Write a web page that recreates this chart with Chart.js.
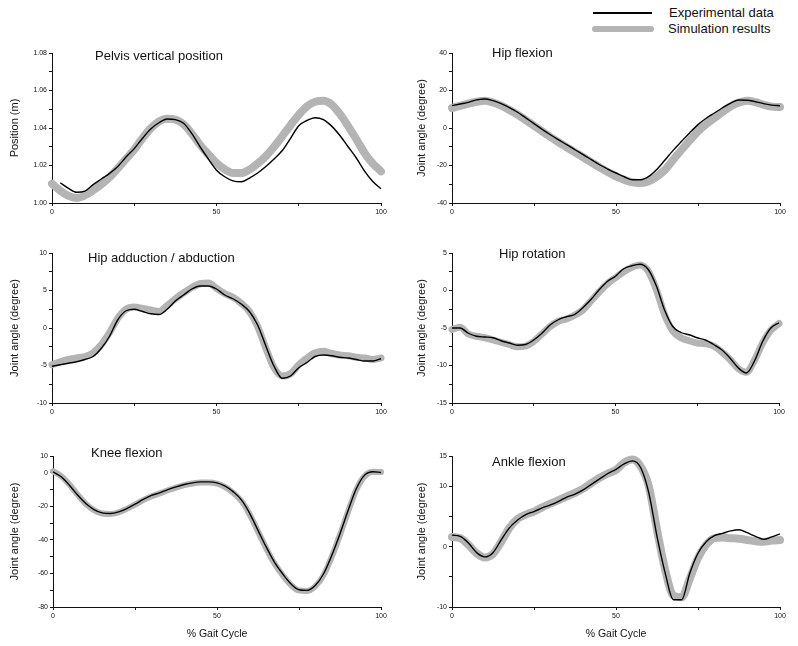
<!DOCTYPE html>
<html>
<head>
<meta charset="utf-8">
<script src="https://cdn.jsdelivr.net/npm/chart.js@4/dist/chart.umd.min.js"></script>
<style>
  body { margin: 0; background: #fff; width: 798px; height: 646px; position: relative; overflow: hidden;
         font-family: "Liberation Sans", Arial, sans-serif; }
  canvas { position: absolute; }
  .legline { position: absolute; }
  .legtext { position: absolute; font-size: 13px; line-height: 14px; color: #111; white-space: nowrap; }
</style>
</head>
<body>
<div class="legline" style="left:593px;top:12px;width:59px;height:1.5px;background:#000"></div>
<div class="legtext" style="left:669px;top:6px">Experimental data</div>
<div class="legline" style="left:592px;top:26px;width:62px;height:6px;border-radius:3px;background:#b4b4b4"></div>
<div class="legtext" style="left:668px;top:22px">Simulation results</div>

<canvas id="pelvis" width="400" height="180" style="left:0px;top:40px"></canvas>
<canvas id="hipFlex" width="398" height="180" style="left:400px;top:40px"></canvas>
<canvas id="hipAdd" width="400" height="180" style="left:0px;top:240px"></canvas>
<canvas id="hipRot" width="398" height="180" style="left:400px;top:240px"></canvas>
<canvas id="knee" width="400" height="203" style="left:0px;top:443px"></canvas>
<canvas id="ankle" width="398" height="203" style="left:400px;top:443px"></canvas>

<script>
// % gait cycle sample points
const gaitPct = [0, 2.5, 5, 7.5, 10, 12.5, 15, 17.5, 20, 22.5, 25, 27.5, 30, 32.5, 35, 37.5, 40, 42.5, 45, 47.5,
                 50, 52.5, 55, 57.5, 60, 62.5, 65, 67.5, 70, 72.5, 75, 77.5, 80, 82.5, 85, 87.5, 90, 92.5, 95, 97.5, 100];

const pelvisExp = [null, 1.0108, 1.0078, 1.0057, 1.0063, 1.0098, 1.0128, 1.0158, 1.0195, 1.0245, 1.0290, 1.0345, 1.0395, 1.0428,
  1.0448, 1.0445, 1.0425, 1.0370, 1.0300, 1.0235, 1.0175, 1.0140, 1.0118, 1.0113, 1.0133, 1.0160, 1.0195, 1.0235,
  1.0280, 1.0345, 1.0412, 1.0440, 1.0455, 1.0445, 1.0410, 1.0360, 1.0300, 1.0240, 1.0170, 1.0115, 1.0076];
const pelvisSim = [1.0103, 1.0065, 1.0038, 1.0027, 1.0040, 1.0068, 1.0100, 1.0138, 1.0185, 1.0235, 1.0285, 1.0345, 1.0398, 1.0435,
  1.0450, 1.0445, 1.0420, 1.0370, 1.0310, 1.0260, 1.0213, 1.0180, 1.0160, 1.0160, 1.0178, 1.0210, 1.0250, 1.0300,
  1.0356, 1.0415, 1.0470, 1.0515, 1.0540, 1.0545, 1.0525, 1.0475, 1.0410, 1.0340, 1.0267, 1.0210, 1.0169];

const hipFlexExp = [11.9, 12.8, 13.7, 15.0, 15.5, 14.6, 13.0, 10.9, 8.4, 5.4, 2.3, -0.7, -3.6, -6.3, -8.9, -11.6, -14.2, -16.9,
  -19.6, -21.9, -24.0, -26.0, -27.6, -27.6, -25.8, -22.0, -16.9, -11.8, -7.1, -2.5, 1.8, 5.2, 8.0, 10.8, 13.3, 14.9,
  14.8, 14.0, 13.0, 12.2, 11.9];
const hipFlexSim = [10.7, 11.8, 13.0, 14.0, 14.6, 13.6, 11.9, 9.6, 7.1, 4.2, 1.2, -1.8, -4.8, -7.6, -10.3, -13.0, -15.6, -18.3,
  -21.0, -23.5, -25.8, -27.6, -29.0, -29.3, -28.4, -25.8, -22.2, -16.8, -11.6, -6.6, -1.8, 2.0, 5.3, 8.6, 11.6, 13.6,
  14.6, 13.8, 12.4, 11.4, 11.2];

const hipAddExp = [-5.1, -4.9, -4.7, -4.5, -4.2, -3.8, -2.7, -1.1, 1.1, 2.3, 2.5, 2.2, 1.9, 1.8, 2.5, 3.6, 4.4, 5.2, 5.6, 5.6,
  5.2, 4.4, 3.9, 3.2, 2.2, 0.4, -2.4, -5.1, -6.7, -6.4, -5.3, -4.6, -3.8, -3.6, -3.7, -3.9, -4.0, -4.2, -4.4, -4.4, -4.1];
const hipAddSim = [-4.9, -4.5, -4.2, -4.0, -3.8, -3.3, -2.2, -0.6, 1.3, 2.5, 2.8, 2.6, 2.4, 2.2, 3.0, 3.9, 4.7, 5.4, 5.9, 6.0,
  5.3, 4.6, 4.1, 3.3, 2.2, 0.2, -2.7, -5.3, -6.4, -6.1, -4.9, -4.0, -3.3, -3.1, -3.4, -3.6, -3.7, -3.9, -4.0, -4.2, -4.0];

const hipRotExp = [-5.0, -5.0, -5.7, -6.1, -6.2, -6.3, -6.7, -7.0, -7.3, -7.2, -6.6, -5.7, -4.6, -3.9, -3.5, -3.2, -2.3, -1.2,
  0.1, 1.2, 1.9, 2.9, 3.3, 3.5, 2.8, 0.6, -2.6, -4.8, -5.6, -5.9, -6.3, -6.6, -7.2, -7.9, -9.0, -10.3, -11.0, -9.4,
  -6.8, -5.0, -4.3];
const hipRotSim = [-5.2, -4.9, -5.8, -6.1, -6.3, -6.6, -6.9, -7.2, -7.5, -7.4, -6.8, -5.8, -4.8, -4.1, -3.8, -3.3, -2.6, -1.4,
  -0.2, 0.9, 1.7, 2.5, 3.1, 3.4, 2.6, 0.1, -3.2, -5.4, -6.3, -6.7, -7.0, -7.1, -7.4, -8.2, -9.2, -10.4, -10.9, -9.3,
  -7.0, -5.3, -4.4];

const kneeExp = [0.6, -2.4, -7.4, -13.3, -18.3, -21.9, -23.9, -24.3, -23.3, -21.3, -18.7, -15.9, -13.5, -12.0, -10.0, -8.4,
  -7.0, -6.0, -5.4, -5.4, -6.0, -8.0, -11.4, -16.3, -24.3, -34.3, -44.2, -53.2, -60.2, -66.1, -69.7, -70.1, -67.1,
  -60.2, -49.2, -36.3, -22.3, -9.4, -1.4, 0.6, 0.2];
const kneeSim = [1.0, -2.0, -7.0, -13.0, -18.5, -22.3, -24.3, -24.6, -23.6, -21.5, -19.0, -16.3, -14.0, -12.3, -10.4, -8.8,
  -7.4, -6.4, -5.8, -5.8, -6.5, -8.6, -12.0, -17.0, -25.0, -35.0, -45.0, -54.0, -61.0, -66.8, -70.2, -70.4, -67.6,
  -61.0, -50.0, -37.0, -23.0, -10.0, -2.0, 0.6, 0.4];

const ankleExp = [1.9, 1.7, 0.6, -1.0, -1.7, -1.0, 1.1, 3.1, 4.4, 5.3, 5.8, 6.4, 6.9, 7.5, 8.2, 8.7, 9.4, 10.3, 11.2, 12.1,
  12.8, 13.7, 14.2, 13.1, 8.9, 1.7, -4.4, -8.8, -8.8, -4.4, -1.1, 0.8, 1.8, 2.2, 2.6, 2.8, 2.3, 1.7, 1.2, 1.6, 2.1];
const ankleSim = [1.6, 1.4, 0.3, -1.1, -1.8, -1.2, 0.8, 3.1, 4.6, 5.3, 5.8, 6.5, 7.1, 7.7, 8.3, 8.9, 9.6, 10.5, 11.4, 12.1,
  12.7, 13.9, 14.4, 13.3, 10.0, 2.8, -3.9, -8.1, -8.4, -5.3, -1.9, 0.3, 1.4, 1.5, 1.4, 1.3, 1.1, 0.9, 0.8, 1.0, 1.1];

const ink = '#111';
const simGray = '#b4b4b4';
const fontFamily = '"Liberation Sans", Arial, sans-serif';
Chart.defaults.font.family = fontFamily;
Chart.defaults.color = ink;

// draws the panel name inside the plot area
const panelTitle = {
  id: 'panelTitle',
  afterDraw(chart, args, opts) {
    const { ctx, chartArea } = chart;
    ctx.save();
    ctx.font = '13px ' + fontFamily;
    ctx.fillStyle = ink;
    ctx.textBaseline = 'middle';
    ctx.fillText(opts.text, chartArea.left + opts.dx, chartArea.top + opts.dy);
    ctx.restore();
  }
};

function points(values) {
  return gaitPct.map((x, i) => ({ x: x, y: values[i] }));
}

function makePanel(p) {
  const b = p.box;
  const yWidth = b.plotLeft - b.left;
  const xHeight = b.top + b.height - b.plotBottom;
  new Chart(document.getElementById(p.id), {
    type: 'line',
    data: {
      datasets: [
        { label: 'Experimental data', data: points(p.exp), borderColor: '#000', borderWidth: 1.4,
          pointRadius: 0, cubicInterpolationMode: 'monotone', clip: false, order: 0 },
        { label: 'Simulation results', data: points(p.sim), borderColor: simGray, borderWidth: p.simWidth,
          borderCapStyle: 'round', borderJoinStyle: 'round',
          pointRadius: 0, cubicInterpolationMode: 'monotone', clip: false, order: 1 }
      ]
    },
    plugins: [panelTitle],
    options: {
      responsive: false,
      animation: false,
      devicePixelRatio: 1,
      layout: { padding: { left: 0, top: b.plotTop - b.top, right: b.left + b.width - b.plotRight, bottom: 0 } },
      plugins: {
        legend: { display: false },
        tooltip: { enabled: false },
        panelTitle: { text: p.title, dx: p.titleDx, dy: p.titleDy }
      },
      scales: {
        x: {
          type: 'linear', min: 0, max: 100,
          afterFit: s => { s.height = xHeight; },
          border: { color: ink, width: 1 },
          grid: { drawOnChartArea: false, tickLength: 3, color: ink },
          ticks: { stepSize: 25, autoSkip: false, maxRotation: 0, padding: 2, font: { size: 7 },
                   callback: v => (v % 50 === 0 ? String(v) : '') },
          title: { display: p.bottom, text: '% Gait Cycle', font: { size: 10.5 }, padding: { top: 0, bottom: 6 } }
        },
        y: {
          min: p.min, max: p.max,
          afterFit: s => { s.width = yWidth; },
          border: { color: ink, width: 1 },
          grid: { drawOnChartArea: false, tickLength: 3, color: ink },
          ticks: { stepSize: p.step, autoSkip: false, padding: 2, font: { size: 7 }, callback: p.tickLabel },
          title: { display: true, text: p.yTitle, font: { size: 11 }, padding: { top: p.yTitlePad, bottom: 0 } }
        }
      }
    }
  });
}

const leftCol = { left: 0, width: 400, plotLeft: 52, plotRight: 381 };
const rightCol = { left: 400, width: 398, plotLeft: 452, plotRight: 780 };

makePanel({ id: 'pelvis', title: 'Pelvis vertical position', titleDx: 43, titleDy: 3,
  yTitle: 'Position (m)', yTitlePad: 8.4, exp: pelvisExp, sim: pelvisSim, simWidth: 8,
  min: 1.0, max: 1.08, step: 0.01, bottom: false,
  tickLabel: v => (Math.round(v * 100) % 2 === 0 ? v.toFixed(2) : ''),
  box: Object.assign({ top: 40, height: 180, plotTop: 53, plotBottom: 203 }, leftCol) });

makePanel({ id: 'hipFlex', title: 'Hip flexion', titleDx: 40, titleDy: 0,
  yTitle: 'Joint angle (degree)', yTitlePad: 15, exp: hipFlexExp, sim: hipFlexSim, simWidth: 8,
  min: -40, max: 40, step: 10, bottom: false,
  tickLabel: v => (v % 20 === 0 ? String(v) : ''),
  box: Object.assign({ top: 40, height: 180, plotTop: 53, plotBottom: 203 }, rightCol) });

makePanel({ id: 'hipAdd', title: 'Hip adduction / abduction', titleDx: 36, titleDy: 5,
  yTitle: 'Joint angle (degree)', yTitlePad: 8.4, exp: hipAddExp, sim: hipAddSim, simWidth: 7,
  min: -10, max: 10, step: 2.5, bottom: false,
  tickLabel: v => (v % 5 === 0 ? String(v) : ''),
  box: Object.assign({ top: 240, height: 180, plotTop: 253, plotBottom: 403 }, leftCol) });

makePanel({ id: 'hipRot', title: 'Hip rotation', titleDx: 47, titleDy: 1,
  yTitle: 'Joint angle (degree)', yTitlePad: 15, exp: hipRotExp, sim: hipRotSim, simWidth: 7,
  min: -15, max: 5, step: 2.5, bottom: false,
  tickLabel: v => (v % 5 === 0 ? String(v) : ''),
  box: Object.assign({ top: 240, height: 180, plotTop: 253, plotBottom: 403 }, rightCol, { plotRight: 779 }) });

makePanel({ id: 'knee', title: 'Knee flexion', titleDx: 38, titleDy: -3,
  yTitle: 'Joint angle (degree)', yTitlePad: 8.4, exp: kneeExp, sim: kneeSim, simWidth: 6,
  min: -80, max: 10, step: 10, bottom: true,
  tickLabel: v => (v === 10 || v % 20 === 0 ? String(v) : ''),
  box: Object.assign({ top: 443, height: 203, plotTop: 456, plotBottom: 607 }, leftCol, { plotLeft: 53 }) });

makePanel({ id: 'ankle', title: 'Ankle flexion', titleDx: 40, titleDy: 6,
  yTitle: 'Joint angle (degree)', yTitlePad: 15, exp: ankleExp, sim: ankleSim, simWidth: 8,
  min: -10, max: 15, step: 5, bottom: true,
  tickLabel: v => ([15, 10, 0, -10].includes(v) ? String(v) : ''),
  box: Object.assign({ top: 443, height: 203, plotTop: 456, plotBottom: 607 }, rightCol) });
</script>
</body>
</html>
